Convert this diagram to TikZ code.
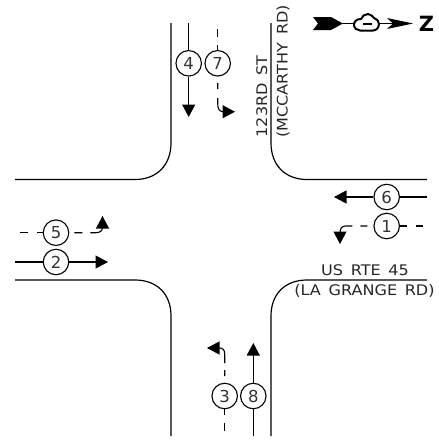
\documentclass[tikz,border=0pt]{standalone}
\usepackage{fontspec}
\setmainfont{DejaVu Sans}
\newfontfamily\labfont[FakeStretch=1.1,WordSpace=1.5]{DejaVu Sans}
\usetikzlibrary{arrows.meta}
\tikzset{
  phase/.style={circle,draw=black,line width=1.1pt,minimum size=25.5pt,inner sep=0pt,font=\fontsize{16.5}{16}\selectfont,text=black!80},
  curb/.style={line width=1.2pt,black},
  move/.style={line width=1.1pt,black,-{Triangle[length=12.5pt,width=13pt]}},
  plain/.style={line width=1.1pt,black},
  label/.style={font=\labfont\fontsize{14.6}{15}\selectfont,text=black!85,inner sep=0pt},
}
\begin{document}
\begin{tikzpicture}[x=1pt,y=-1pt]
\useasboundingbox (0,0) rectangle (439,440);
% curbs
\draw[curb] (171,23) -- (171,143) .. controls (171,165) and (157,179.5) .. (135,179.5) -- (15,179.5);
\draw[curb] (271,23) -- (271,143) .. controls (271,165) and (285,179.5) .. (307,179.5) -- (427,179.5);
\draw[curb] (15,280) -- (135,280) .. controls (157,280) and (171,294) .. (171,316) -- (171,436);
\draw[curb] (427,280) -- (307,280) .. controls (285,280) and (271,294) .. (271,316) -- (271,436);
% phase circles
\node[phase] (p4) at (188.7,63.3) {4};
\node[phase] (p7) at (217.7,63.3) {7};
\node[phase] (p5) at (56,232.7) {5};
\node[phase] (p2) at (56,262) {2};
\node[phase] (p6) at (386.7,197) {6};
\node[phase] (p1) at (386.7,226) {1};
\node[phase] (p3) at (224.7,396) {3};
\node[phase] (p8) at (253.3,396) {8};
% free ends
\coordinate (t4) at (188.7,23);
\coordinate (e4) at (188.7,117);
\coordinate (t7) at (217.7,29);
\coordinate (e2) at (108,262);
\coordinate (s2) at (15,262);
\coordinate (s5) at (20,232.7);
\coordinate (e6) at (334,197);
\coordinate (s6) at (427,197);
\coordinate (s1) at (423,226);
\coordinate (s3) at (224.7,431);
\coordinate (s8) at (253.3,436);
\coordinate (e8) at (253.3,343);
% through movements
\draw[plain] (t4) -- (p4);
\draw[move] (p4) -- (e4);
\draw[plain] (s2) -- (p2);
\draw[move] (p2) -- (e2);
\draw[plain] (s6) -- (p6);
\draw[move] (p6) -- (e6);
\draw[plain] (s8) -- (p8);
\draw[move] (p8) -- (e8);
% dashed left-turn movements
\draw[plain,dash pattern=on 8pt off 8pt] (t7) -- (p7);
\draw[move,dash pattern=on 0pt off 6.5pt on 6pt off 9pt on 40pt]
  (p7) -- (217.7,103) .. controls (217.7,109) and (219,111.7) .. (224,111.7) -- (235,111.7);
\draw[plain,dash pattern=on 8pt off 9pt] (s5) -- (p5);
\draw[move,dash pattern=on 0pt off 5pt on 8pt off 8pt on 40pt]
  (p5) -- (96,232.7) .. controls (100,232.7) and (102.5,231) .. (102.5,227) -- (102.5,216);
\draw[plain,dash pattern=on 7pt off 9pt] (s1) -- (p1);
\draw[move,dash pattern=on 0pt off 6pt on 7pt off 8pt on 40pt]
  (p1) -- (346,226) .. controls (342,226) and (340,228) .. (340,233) -- (340,244);
\draw[plain,dash pattern=on 8pt off 8pt] (s3) -- (p3);
\draw[move,dash pattern=on 0pt off 6.5pt on 6pt off 7pt on 40pt]
  (p3) -- (224.7,354) .. controls (224.7,350) and (223,348) .. (219,348) -- (207,348);
% road names
\node[label,rotate=90] (n1) at (261.7,96.5) {123RD ST};
\node[label,rotate=90] (n2) at (283,71.5) {(MCCARTHY RD)};
\node[label] (n3) at (365,270) {US RTE 45};
\node[label] (n4) at (364.5,291) {(LA GRANGE RD)};
% north arrow
\fill[black] (313,17) -- (331,17) -- (343,23.5) -- (331,30) -- (313,30) -- (318,23.5) -- cycle;
\draw[line width=1.1pt] (343,23.5) -- (354,23.5);
\draw[line width=2pt,line join=round] (354,25) .. controls (354,21) and (357,19) .. (361,19) .. controls (362,16) and (365,14) .. (368,14) .. controls (371,14) and (373,17) .. (374,18) .. controls (377,19) and (379,21) .. (379,24) .. controls (379,28) and (376,30.5) .. (373,30.5) -- (360,30.5) .. controls (357,30.5) and (354,28) .. (354,25) -- cycle;
\draw[line width=1.6pt] (363,24) -- (372,24);
\draw[line width=1.1pt] (379,23.5) -- (394,23.5);
\fill[black] (387,18) -- (413,23.5) -- (387,29) -- (393,23.5) -- cycle;
\node[inner sep=0pt,font=\fontsize{21}{21}\bfseries\selectfont] (z) at (426.5,23.5) {Z};
\end{tikzpicture}
\end{document}
